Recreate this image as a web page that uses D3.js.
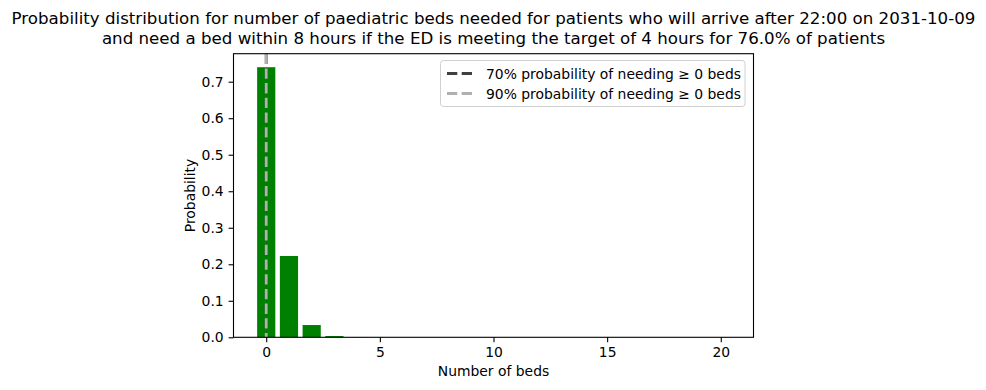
<!DOCTYPE html>
<html><head><meta charset="utf-8">
<script src="https://cdn.jsdelivr.net/npm/d3@7"></script>
<style>body{margin:0;background:#fff}svg{display:block;font-family:"DejaVu Sans",sans-serif}</style>
</head><body><svg id="c" width="986" height="390"></svg>
<script>
const beds = d3.range(0, 21);
const probs = [0.7397, 0.2227, 0.0336, 0.0035, 0.0004, 0.00003, 0, 0, 0, 0, 0, 0, 0, 0, 0, 0, 0, 0, 0, 0, 0];
const xTicks = [0, 5, 10, 15, 20];
const yTicks = [0.0, 0.1, 0.2, 0.3, 0.4, 0.5, 0.6, 0.7];
const titleLines = ["Probability distribution for number of paediatric beds needed for patients who will arrive after 22:00 on 2031-10-09",
  "and need a bed within 8 hours if the ED is meeting the target of 4 hours for 76.0% of patients"];
const legendLabels = ["70% probability of needing \u2265 0 beds", "90% probability of needing \u2265 0 beds"];
const thresholds = [0, 0];
const lineColors = ["#404040", "#b0b0b0"];

const svg = d3.select("#c");
const L = 233.5, R = 753.5, T = 53.7, B = 337.3;
const barW = 0.8;
const x = d3.scaleLinear().domain([-0.4 - 1.04, 20.4 + 1.04]).range([L, R]);
const y = d3.scaleLinear().domain([0, d3.max(probs) * 1.05]).range([B, T]);

svg.append("g").selectAll("rect").data(beds).join("rect")
  .attr("x", d => x(d - barW / 2)).attr("width", d => x(d + barW / 2) - x(d - barW / 2))
  .attr("y", (d, i) => y(probs[i])).attr("height", (d, i) => B - y(probs[i]))
  .attr("fill", "#008000");

thresholds.forEach((t, i) => {
  svg.append("line").attr("x1", x(t)).attr("x2", x(t)).attr("y1", T).attr("y2", B)
    .attr("stroke", lineColors[i]).attr("stroke-width", 2.8).attr("stroke-dasharray", "10.3,4.4");
});

const xa = svg.append("g").attr("transform", `translate(0,${B})`)
  .call(d3.axisBottom(x).tickValues(xTicks).tickFormat(d3.format("d")).tickSize(4.9).tickPadding(4.9));
const ya = svg.append("g").attr("transform", `translate(${L},0)`)
  .call(d3.axisLeft(y).tickValues(yTicks).tickFormat(d3.format(".1f")).tickSize(4.9).tickPadding(4.9));
[xa, ya].forEach(a => {
  a.select(".domain").remove();
  a.selectAll("text").attr("font-size", 13.9).attr("fill", "#000").attr("font-family", "DejaVu Sans");
  a.selectAll("line").attr("stroke", "#000").attr("stroke-width", 1.1);
});
svg.append("rect").attr("x", L).attr("y", T).attr("width", R - L).attr("height", B - T)
  .attr("fill", "none").attr("stroke", "#000").attr("stroke-width", 1.1);

svg.append("text").attr("x", (L + R) / 2).attr("y", 376).attr("text-anchor", "middle")
  .attr("font-size", 13.9).text("Number of beds");
svg.append("text").attr("transform", `translate(195,${(T + B) / 2}) rotate(-90)`).attr("text-anchor", "middle")
  .attr("font-size", 13.9).text("Probability");

titleLines.forEach((s, i) => {
  svg.append("text").attr("x", (L + R) / 2).attr("y", 24 + i * 20).attr("text-anchor", "middle")
    .attr("font-size", 16.67).text(s);
});

const lg = svg.append("g");
lg.append("rect").attr("x", 440.5).attr("y", 60.5).attr("width", 304.5).attr("height", 46)
  .attr("rx", 3).attr("fill", "#fff").attr("fill-opacity", 0.8).attr("stroke", "#d0d0d0");
legendLabels.forEach((s, i) => {
  const yy = 73.5 + i * 20;
  lg.append("line").attr("x1", 447).attr("x2", 475).attr("y1", yy).attr("y2", yy)
    .attr("stroke", lineColors[i]).attr("stroke-width", 2.8).attr("stroke-dasharray", "10.3,4.4");
  lg.append("text").attr("x", 486).attr("y", yy + 5).attr("font-size", 13.9).text(s);
});
</script></body></html>
